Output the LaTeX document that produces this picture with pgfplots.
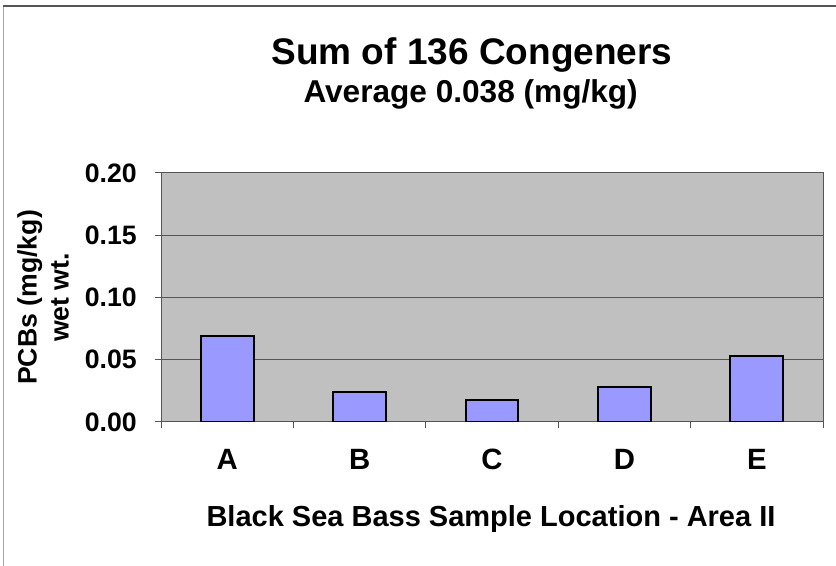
\documentclass[border=0pt]{standalone}
\usepackage{pgfplots}
\pgfplotsset{compat=1.18}
\usepackage{fontspec}
\setmainfont{Liberation Sans}
\definecolor{barfill}{HTML}{9999FF}
\definecolor{plotbg}{HTML}{C0C0C0}
\definecolor{gridc}{HTML}{555555}
\begin{document}
\begin{tikzpicture}[x=1pt,y=1pt]
\useasboundingbox (0,0) rectangle (627,424.5);
\draw[gray!70, line width=0.75pt] (2.25,0) -- (2.25,420);
\draw[gridc, line width=1pt] (2.25,420) -- (627,420);
\begin{axis}[
  at={(120.75pt,108pt)}, anchor=south west,
  scale only axis, width=496.5pt, height=186.75pt,
  xmin=-0.5, xmax=4.5, ymin=0, ymax=0.2,
  axis background/.style={fill=plotbg},
  axis line style={gridc, line width=0.75pt},
  ybar, bar width=0.4,
  ytick={0,0.05,0.1,0.15,0.2},
  ymajorgrids, grid style={gridc, line width=0.75pt},
  tick align=outside, major tick length=4.5pt,
  tick style={gridc, line width=0.75pt},
  tick pos=left,
  xtick={-0.5,0.5,1.5,2.5,3.5,4.5}, xticklabels={},
  extra x ticks={0,1,2,3,4},
  extra x tick labels={A,B,C,D,E},
  extra x tick style={major tick length=0pt, grid=none,
     tick label style={font=\bfseries\fontsize{22pt}{26pt}\selectfont, inner sep=0pt, anchor=north, yshift=-20pt}},
  /pgf/number format/assume math mode=true,
  y tick label style={font=\bfseries\fontsize{20pt}{24pt}\selectfont, inner sep=0pt, anchor=east, xshift=-13.5pt,
     /pgf/number format/fixed, /pgf/number format/fixed zerofill, /pgf/number format/precision=2},
]
\addplot[fill=barfill, draw=black, line width=1.5pt] coordinates {(0,0.069) (1,0.024) (2,0.018) (3,0.028) (4,0.053)};
\end{axis}
\node[anchor=base, font=\bfseries\fontsize{27.75pt}{32pt}\selectfont] at (354,375.75) {Sum of 136 Congeners};
\node[anchor=base, font=\bfseries\fontsize{23.7pt}{28pt}\selectfont] at (353,347.25) {Average 0.038 (mg/kg)};
\node[anchor=base, font=\bfseries\fontsize{21.75pt}{26pt}\selectfont] at (368.25,29.25) {Black Sea Bass Sample Location - Area II};
\node[anchor=base, rotate=90, font=\bfseries\fontsize{20pt}{24pt}\selectfont] at (27.4,201.4) {PCBs (mg/kg)};
\node[anchor=base, rotate=90, font=\bfseries\fontsize{20pt}{24pt}\selectfont] at (51.5,201.4) {wet wt.};
\end{tikzpicture}
\end{document}
